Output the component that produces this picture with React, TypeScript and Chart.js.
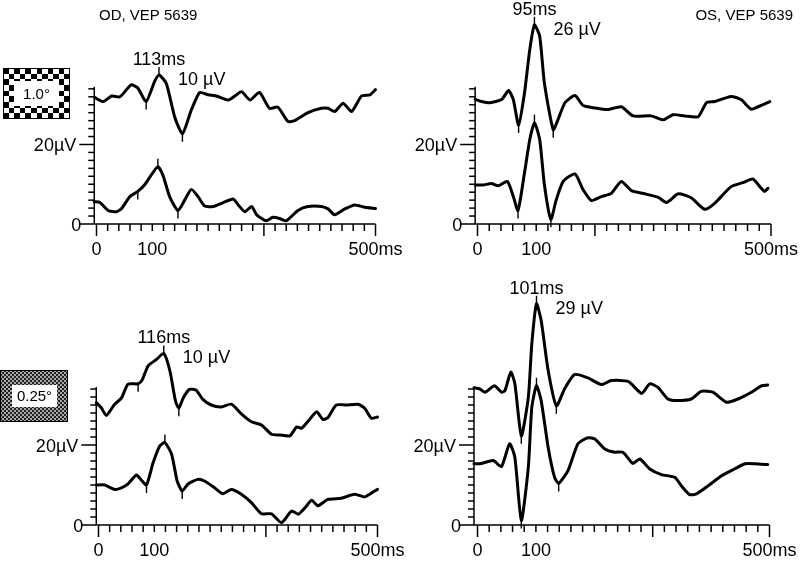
import React, { useEffect, useRef } from 'react';
import { Chart, registerables } from 'chart.js';

Chart.register(...registerables);

const FONT = '"Liberation Sans", Arial, Helvetica, sans-serif';

// ---------------- data ----------------
const xTickValues = [0, 100, 500];
const xTickLabels = ['0', '100', '500ms'];
const yTickValues = [0, 20];
const yTickLabels = ['0', '20µV'];
const yMinorStep = 2;
const yAxisTopUv = 34.5;
const xMinorStep = 20;

const eyeTitles = ['OD, VEP 5639', 'OS, VEP 5639'];
const checkSizes = ['1.0°', '0.25°'];
const latencyLabels = ['113ms', '95ms', '116ms', '101ms'];
const amplitudeLabels = ['10 µV', '26 µV', '10 µV', '29 µV'];

// OD, 1.0° checks
const od10TopMs = [-4, 12, 27, 42, 62, 74, 89, 104, 112, 125, 140, 154, 170, 185, 200, 215, 236, 248, 260, 275, 292, 310, 325, 343, 355, 379, 403, 415, 427, 442, 457, 475, 490, 500];
const od10TopUv = [31.9, 30.8, 32.2, 32.0, 35.0, 34.2, 30.8, 35.8, 37.5, 35.4, 27.0, 22.7, 28.7, 33.1, 32.5, 32.2, 31.2, 32.2, 33.3, 31.2, 33.1, 29.1, 29.4, 25.8, 26.0, 28.0, 29.1, 29.1, 28.3, 30.4, 28.3, 32.2, 32.5, 33.8];
const od10TopMarkMs = [89, 112, 154];
const od10TopMarkDir = [-1, 1, -1];
const od10BotMs = [-4, 6, 21, 36, 45, 60, 74, 86, 98, 110, 119, 131, 146, 158, 170, 182, 194, 209, 227, 245, 254, 266, 278, 287, 304, 316, 328, 340, 361, 379, 403, 415, 427, 445, 463, 481, 500];
const od10BotUv = [5.6, 5.4, 3.4, 3.1, 3.9, 6.9, 8.2, 9.8, 12.3, 14.4, 12.3, 6.9, 3.4, 6.0, 8.7, 6.9, 4.5, 4.4, 5.4, 6.3, 4.8, 3.1, 4.4, 2.3, 0.8, 1.7, 1.4, 0.8, 3.4, 4.4, 4.4, 3.8, 2.3, 3.8, 4.8, 4.2, 3.9];
const od10BotMarkMs = [74, 110, 146];
const od10BotMarkDir = [-1, 1, -1];

// OS, 1.0° checks
const os10TopMs = [-4, 7, 21, 41, 53, 61, 70, 80, 89, 97, 106, 114, 129, 137, 149, 166, 180, 200, 222, 245, 265, 296, 316, 333, 353, 376, 390, 404, 432, 449, 466, 478, 498];
const os10TopUv = [31.4, 30.8, 30.5, 31.3, 33.6, 31.3, 24.9, 32.9, 43.8, 50.1, 47.2, 35.4, 23.7, 26.2, 30.5, 32.3, 29.8, 29.2, 28.8, 29.5, 27.2, 27.2, 26.2, 27.5, 27.2, 27.0, 30.5, 30.8, 32.1, 31.3, 28.9, 29.5, 30.8];
const os10TopMarkMs = [70, 97, 129];
const os10TopMarkDir = [-1, 1, -1];
const os10BotMs = [-4, 9, 24, 35, 51, 61, 69, 80, 89, 97, 106, 114, 125, 134, 146, 166, 180, 194, 211, 228, 245, 262, 285, 308, 322, 342, 364, 387, 404, 432, 452, 469, 481, 489, 495];
const os10BotUv = [9.8, 9.8, 10.2, 9.6, 10.7, 6.9, 3.4, 12.8, 21.2, 25.5, 21.2, 9.8, 1.2, 6.0, 10.7, 12.6, 8.6, 5.9, 6.9, 7.7, 10.7, 8.4, 7.6, 6.7, 5.4, 7.6, 6.6, 3.7, 5.2, 9.4, 10.4, 11.3, 9.4, 8.2, 9.0];
const os10BotMarkMs = [69, 97, 125];
const os10BotMarkDir = [-1, 1, -1];

// OD, 0.25° checks
const od025TopMs = [-4, 5, 14, 29, 41, 53, 71, 78, 89, 104, 117, 128, 138, 144, 152, 163, 175, 187, 202, 220, 238, 256, 274, 292, 310, 325, 343, 355, 364, 376, 391, 402, 411, 426, 444, 465, 477, 489, 500];
const od025TopUv = [30.6, 29.3, 27.4, 30.2, 31.7, 35.2, 35.3, 36.2, 39.8, 41.4, 42.9, 38.5, 31.0, 29.2, 31.8, 33.9, 33.7, 31.4, 30.0, 29.5, 30.2, 27.8, 25.8, 25.0, 22.7, 22.5, 22.3, 24.5, 24.2, 26.0, 28.3, 26.4, 26.8, 30.0, 30.0, 30.2, 29.2, 26.7, 27.0];
const od025TopMarkMs = [71, 117, 144];
const od025TopMarkDir = [-1, 1, -1];
const od025BotMs = [-4, 11, 29, 41, 53, 68, 77, 86, 98, 110, 119, 131, 141, 150, 160, 178, 190, 208, 223, 238, 256, 274, 292, 310, 328, 346, 358, 370, 382, 393, 411, 435, 459, 477, 486, 500];
const od025BotUv = [10.0, 10.0, 8.9, 9.3, 10.3, 12.5, 11.2, 10.0, 15.6, 19.8, 20.6, 17.7, 11.0, 8.5, 10.2, 11.4, 11.0, 9.3, 7.8, 8.9, 7.7, 5.6, 2.8, 2.8, 0.6, 3.5, 2.7, 4.3, 6.2, 4.8, 6.4, 6.7, 7.7, 7.0, 7.7, 8.9];
const od025BotMarkMs = [86, 119, 150];
const od025BotMarkDir = [-1, 1, -1];

// OS, 0.25° checks
const os025TopMs = [-6, 4, 13, 29, 41, 47, 57, 64, 75, 87, 93, 101, 109, 121, 135, 149, 166, 189, 212, 229, 258, 281, 295, 309, 326, 343, 366, 383, 403, 426, 446, 469, 486, 497];
const os025TopUv = [34.3, 34.0, 33.2, 34.8, 33.2, 33.6, 38.2, 35.3, 22.3, 31.9, 45.3, 55.3, 51.1, 38.6, 29.8, 34.0, 37.6, 36.8, 35.1, 36.1, 35.9, 32.9, 35.3, 34.4, 31.5, 31.1, 31.5, 33.4, 33.2, 30.7, 31.5, 33.2, 34.8, 35.0];
const os025TopMarkMs = [75, 101, 135];
const os025TopMarkDir = [-1, 1, -1];
const os025BotMs = [-6, 7, 27, 41, 55, 64, 75, 87, 93, 101, 109, 121, 132, 139, 155, 172, 189, 201, 218, 235, 249, 266, 278, 295, 315, 338, 349, 363, 375, 395, 418, 440, 458, 475, 497];
const os025BotUv = [15.3, 15.4, 16.1, 14.6, 20.3, 16.9, 1.1, 14.4, 29.4, 34.8, 31.1, 19.4, 11.9, 10.4, 13.6, 20.3, 21.8, 21.5, 19.0, 18.2, 18.2, 15.4, 16.5, 14.0, 12.6, 11.9, 9.8, 7.6, 7.8, 9.8, 12.3, 14.0, 15.3, 15.3, 15.1];
const os025BotMarkMs = [75, 101, 139];
const os025BotMarkDir = [-1, 1, -1];

// ---------------- panel assembly ----------------
type Trace = { ms: number[]; uv: number[]; markMs: number[]; markDir: number[] };

const panelTraces: Trace[][] = [
  [
    { ms: od10TopMs, uv: od10TopUv, markMs: od10TopMarkMs, markDir: od10TopMarkDir },
    { ms: od10BotMs, uv: od10BotUv, markMs: od10BotMarkMs, markDir: od10BotMarkDir },
  ],
  [
    { ms: os10TopMs, uv: os10TopUv, markMs: os10TopMarkMs, markDir: os10TopMarkDir },
    { ms: os10BotMs, uv: os10BotUv, markMs: os10BotMarkMs, markDir: os10BotMarkDir },
  ],
  [
    { ms: od025TopMs, uv: od025TopUv, markMs: od025TopMarkMs, markDir: od025TopMarkDir },
    { ms: od025BotMs, uv: od025BotUv, markMs: od025BotMarkMs, markDir: od025BotMarkDir },
  ],
  [
    { ms: os025TopMs, uv: os025TopUv, markMs: os025TopMarkMs, markDir: os025TopMarkDir },
    { ms: os025BotMs, uv: os025BotUv, markMs: os025BotMarkMs, markDir: os025BotMarkDir },
  ],
];

// ---------------- layout / style ----------------
type Layout = {
  left: number; top: number; width: number; height: number;
  x0: number; x500: number; y0: number; pxUv: number;
  axisMs: number; longTicks: number[];
  title?: { text: string; x: number; y: number; align: CanvasTextAlign };
  stim?: { kind: 'check' | 'fine'; text: string; x: number; y: number; w: number; h: number; ix: number; iy: number; iw: number; ih: number };
};

const layouts: Layout[] = [
  {
    left: 0, top: 0, width: 408, height: 281, x0: 96.5, x500: 375.5, y0: 224, pxUv: 3.975, axisMs: -4, longTicks: [0, 300, 500],
    title: { text: eyeTitles[0], x: 99, y: 16, align: 'left' },
    stim: { kind: 'check', text: checkSizes[0], x: 3, y: 68, w: 67, h: 51, ix: 14, iy: 81, iw: 45, ih: 25 },
  },
  {
    left: 408, top: 0, width: 392, height: 281, x0: 477.5, x500: 771, y0: 224, pxUv: 3.975, axisMs: -4, longTicks: [0, 200, 500],
    title: { text: eyeTitles[1], x: 385, y: 16, align: 'right' },
  },
  {
    left: 0, top: 281, width: 408, height: 281, x0: 98.5, x500: 377.5, y0: 525, pxUv: 4.0, axisMs: -4, longTicks: [0, 300, 500],
    stim: { kind: 'fine', text: checkSizes[1], x: 0, y: 89, w: 68, h: 52, ix: 12, iy: 104, iw: 45, ih: 22 },
  },
  {
    left: 408, top: 281, width: 392, height: 281, x0: 477.5, x500: 769.5, y0: 525, pxUv: 4.0, axisMs: -6, longTicks: [0, 300, 500],
  },
];

function drawStim(ctx: CanvasRenderingContext2D, s: NonNullable<Layout['stim']>) {
  ctx.save();
  if (s.kind === 'check') {
    const cols = 12, rows = 9;
    const cw = s.w / cols, ch = s.h / rows;
    for (let r = 0; r < rows; r++) {
      for (let c = 0; c < cols; c++) {
        const x1 = Math.round(s.x + c * cw), x2 = Math.round(s.x + (c + 1) * cw);
        const y1 = Math.round(s.y + r * ch), y2 = Math.round(s.y + (r + 1) * ch);
        ctx.fillStyle = (r + c) % 2 === 0 ? '#000' : '#fff';
        ctx.fillRect(x1, y1, x2 - x1, y2 - y1);
      }
    }
  } else {
    const sz = 2;
    for (let yy = 0; yy < s.h; yy += sz) {
      for (let xx = 0; xx < s.w; xx += sz) {
        ctx.fillStyle = ((xx + yy) / sz) % 2 === 0 ? '#222' : '#a8a8a8';
        ctx.fillRect(s.x + xx, s.y + yy, sz, sz);
      }
    }
  }
  ctx.fillStyle = '#fff';
  ctx.fillRect(s.ix, s.iy, s.iw, s.ih);
  ctx.strokeStyle = '#000';
  ctx.lineWidth = 1;
  ctx.strokeRect(s.x + 0.5, s.y + 0.5, s.w - 1, s.h - 1);
  ctx.fillStyle = '#000';
  ctx.font = `15px ${FONT}`;
  ctx.textAlign = 'center';
  ctx.textBaseline = 'middle';
  ctx.fillText(s.text, s.ix + s.iw / 2, s.iy + s.ih / 2 + 1);
  ctx.restore();
}

function Panel({ idx }: { idx: number }) {
  const ref = useRef<HTMLCanvasElement | null>(null);
  const L = layouts[idx];
  useEffect(() => {
    const canvas = ref.current;
    if (!canvas) return;
    const traces = panelTraces[idx];
    const pxMs = (L.x500 - L.x0) / 500;
    const xMin = (L.left - L.x0) / pxMs;
    const xMax = (L.left + L.width - L.x0) / pxMs;
    const yMax = (L.y0 - L.top) / L.pxUv;
    const yMin = -(L.top + L.height - L.y0) / L.pxUv;

    const plugin = {
      id: 'vepPanel',
      afterDatasetsDraw(chart: any) {
        const ctx: CanvasRenderingContext2D = chart.ctx;
        const xs = chart.scales.x;
        const ys = chart.scales.y;
        ctx.save();
        ctx.strokeStyle = '#000';
        ctx.fillStyle = '#000';
        ctx.lineWidth = 1.5;
        ctx.lineCap = 'butt';
        const line = (x1: number, y1: number, x2: number, y2: number) => {
          ctx.beginPath();
          ctx.moveTo(x1, y1);
          ctx.lineTo(x2, y2);
          ctx.stroke();
        };
        const ax = xs.getPixelForValue(L.axisMs);
        const yb = ys.getPixelForValue(0);
        // y axis
        line(ax, yb, ax, ys.getPixelForValue(yAxisTopUv));
        for (let v = 0; v <= yAxisTopUv; v += yMinorStep) {
          const py = ys.getPixelForValue(v);
          const len = yTickValues.includes(v) ? 15 : 6;
          line(ax - len, py, ax, py);
        }
        // x axis
        line(ax, yb, xs.getPixelForValue(500), yb);
        for (let t = 0; t <= 500; t += xMinorStep) {
          const px = xs.getPixelForValue(t);
          const len = L.longTicks.includes(t) ? 12 : 7;
          line(px, yb, px, yb + len);
        }
        // tick labels
        ctx.font = `18px ${FONT}`;
        ctx.textBaseline = 'middle';
        ctx.textAlign = 'center';
        xTickValues.forEach((t, i) => {
          ctx.fillText(xTickLabels[i], xs.getPixelForValue(t), yb + 26);
        });
        ctx.textAlign = 'right';
        yTickValues.forEach((v, i) => {
          const off = v === 0 ? 13 : 18;
          ctx.fillText(yTickLabels[i], ax - off, ys.getPixelForValue(v) + 2);
        });
        // peak / trough markers
        ctx.lineWidth = 1.4;
        traces.forEach((tr) => {
          tr.markMs.forEach((m, k) => {
            const i = tr.ms.indexOf(m);
            if (i < 0) return;
            const px = xs.getPixelForValue(tr.ms[i]);
            const py = ys.getPixelForValue(tr.uv[i]);
            line(px, py, px, py - tr.markDir[k] * 8);
          });
        });
        // latency / amplitude labels at the top trace's positive peak
        const top = traces[0];
        const k = top.markDir.indexOf(1);
        const i = top.ms.indexOf(top.markMs[k]);
        const ppx = xs.getPixelForValue(top.ms[i]);
        const ppy = ys.getPixelForValue(top.uv[i]);
        ctx.font = `18px ${FONT}`;
        ctx.textAlign = 'center';
        ctx.fillText(latencyLabels[idx], ppx, ppy - 15);
        ctx.textAlign = 'left';
        ctx.fillText(amplitudeLabels[idx], ppx + 19, ppy + 5);
        // title
        if (L.title) {
          ctx.font = `15px ${FONT}`;
          ctx.textAlign = L.title.align;
          ctx.fillText(L.title.text, L.title.x, L.title.y);
        }
        ctx.restore();
        if (L.stim) drawStim(ctx, L.stim);
      },
    };

    const chart = new Chart(canvas, {
      type: 'line',
      data: {
        datasets: traces.map((tr) => ({
          data: tr.ms.map((m, j) => ({ x: m, y: tr.uv[j] })),
          borderColor: '#000',
          borderWidth: 3,
          pointRadius: 0,
          tension: 0.2,
          fill: false,
          borderJoinStyle: 'round' as const,
          borderCapStyle: 'round' as const,
        })),
      },
      options: {
        animation: false,
        responsive: false,
        maintainAspectRatio: false,
        events: [],
        layout: { padding: 0 },
        plugins: { legend: { display: false }, tooltip: { enabled: false } },
        scales: {
          x: { type: 'linear', min: xMin, max: xMax, display: false },
          y: { type: 'linear', min: yMin, max: yMax, display: false },
        },
      },
      plugins: [plugin],
    });
    return () => chart.destroy();
  }, [idx]);

  return (
    <canvas
      ref={ref}
      width={L.width}
      height={L.height}
      style={{ position: 'absolute', left: L.left, top: L.top, width: L.width, height: L.height }}
    />
  );
}

export default function App() {
  return (
    <div style={{ position: 'absolute', left: 0, top: 0, width: 800, height: 562, background: '#fff', overflow: 'hidden' }}>
      {layouts.map((_, i) => (
        <Panel key={i} idx={i} />
      ))}
    </div>
  );
}
